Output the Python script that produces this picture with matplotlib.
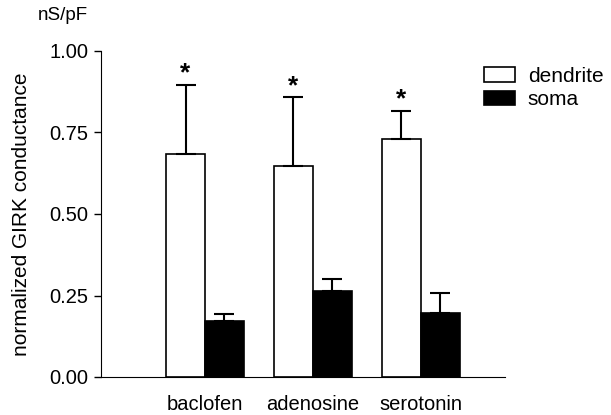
import matplotlib
matplotlib.use("Agg")
import matplotlib.pyplot as plt
import numpy as np

plt.rcParams["font.family"] = ["Liberation Sans", "DejaVu Sans"]

# values
drugs = ["baclofen", "adenosine", "serotonin"]
dendrite = [0.684, 0.647, 0.729]
dendrite_err = [0.212, 0.211, 0.088]
soma = [0.173, 0.264, 0.197]
soma_err = [0.019, 0.036, 0.061]
signif = ["*", "*", "*"]

fig = plt.figure(figsize=(6.11, 4.15), dpi=100)
ax = fig.add_axes([101 / 611, 1 - 377 / 415, 404 / 611, 326 / 415])

x = np.arange(len(drugs))
w = 0.36
ekw = dict(elinewidth=1.5, capthick=1.5)
ax.bar(x - w / 2, dendrite, w, color="white", edgecolor="black", linewidth=1.2,
       label="dendrite")
ax.errorbar(x - w / 2, dendrite, yerr=[np.zeros(3), dendrite_err], fmt="none",
            ecolor="black", capsize=7, **ekw)
ax.bar(x + w / 2, soma, w, color="black", edgecolor="black", linewidth=1.2,
       label="soma")
ax.errorbar(x + w / 2, soma, yerr=[np.zeros(3), soma_err], fmt="none",
            ecolor="black", capsize=7, **ekw)

# significance marks above the dendrite bars
for i in range(len(drugs)):
    ax.text(x[i] - w / 2, dendrite[i] + dendrite_err[i] + 0.035, signif[i],
            ha="center", va="center", fontsize=19, fontweight="bold")

ax.set_xlim(-0.963, 2.78)
ax.set_ylim(0, 1.0)
ax.set_yticks([0, 0.25, 0.5, 0.75, 1.0])
ax.set_yticklabels(["0.00", "0.25", "0.50", "0.75", "1.00"])
ax.set_xticks(x)
ax.set_xticklabels(drugs)
ax.tick_params(axis="x", length=0, pad=13, labelsize=14.5)
ax.tick_params(axis="y", length=5, width=1, labelsize=14.5, pad=4)
ax.spines["top"].set_visible(False)
ax.spines["right"].set_visible(False)
ax.set_ylabel("normalized GIRK conductance", fontsize=15, labelpad=13)
fig.text(38 / 611, 1 - 15 / 415, "nS/pF", fontsize=13.5, va="center", ha="left")

ax.legend(loc="upper left", bbox_to_anchor=(484 / 611, 1 - 67 / 415),
          bbox_transform=fig.transFigure, frameon=False, fontsize=15,
          handlelength=1.5, handleheight=0.7, handletextpad=0.6,
          labelspacing=0.2, borderpad=0, borderaxespad=0)

fig.savefig("out.png", dpi=100)
